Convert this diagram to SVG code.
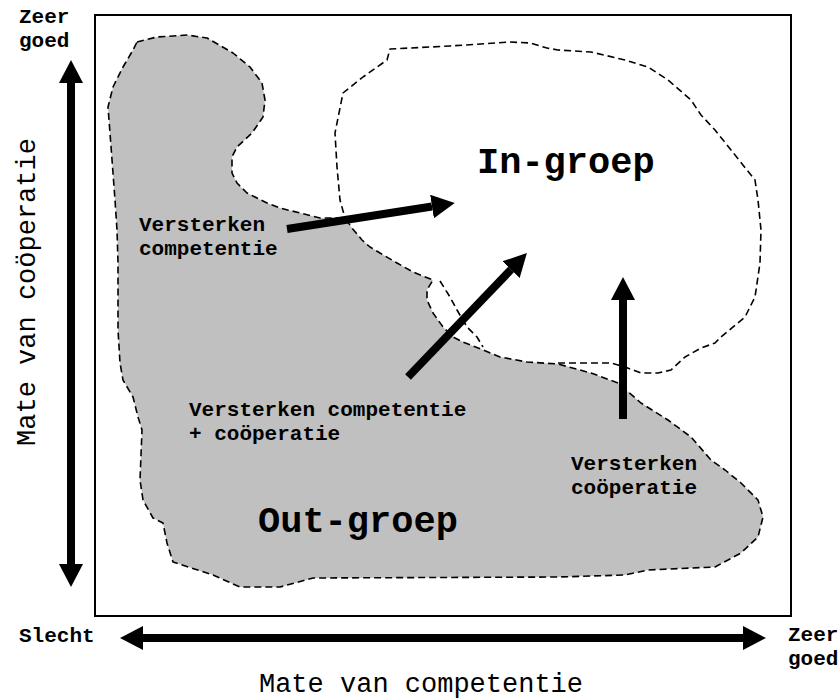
<svg xmlns="http://www.w3.org/2000/svg" width="838" height="700" viewBox="0 0 838 700">
<style>
.lbl{font-family:"Liberation Mono","Courier New",monospace;font-weight:bold;font-size:21px;fill:#000}
.big{font-family:"Liberation Mono","Courier New",monospace;font-weight:bold;font-size:37px;fill:#000}
.axis{font-family:"Liberation Mono","Courier New",monospace;font-size:27px;fill:#000}
.blob{stroke:#000;stroke-width:1.6;stroke-dasharray:7 4;stroke-linejoin:round}
.arr{stroke:#000;stroke-width:8;fill:none}
</style>
<defs>
<marker id="head" markerUnits="userSpaceOnUse" viewBox="0 -12 23 24" refX="0" refY="0" markerWidth="23" markerHeight="24" orient="auto-start-reverse">
<path d="M0,-12 L23,0 L0,12 Z" fill="#000"/>
</marker>
</defs>
<rect x="95" y="15" width="696" height="601" fill="#fff" stroke="#000" stroke-width="2"/>
<g id="out-groep">
<path class="blob" fill="#c0c0c0" d="M137,42 L157,37 L187,35 L207,38 L233,53 L250,67 L262,83 L265,100 L263,117 L252,133 L237,147 L232,157 L232,173 L237,183 L247,193 L267,203 L280,208 L320,218 L345,218 L352,228 L362,240 L370,247 L380,253 L397,263 L413,272 L433,280 L427,290 L427,300 L433,313 L443,327 L453,337 L463,342 L483,350 L500,357 L527,362 L558,364 L591,373 L618,383 L641,403 L668,420 L691,437 L711,460 L725,470 L741,483 L758,500 L763,517 L758,537 L741,553 L715,567 L691,568 L648,570 L625,575 L558,577 L313,578 L280,587 L240,587 L213,575 L173,562 L167,543 L163,523 L153,518 L143,500 L140,480 L142,430 L138,417 L133,397 L123,380 L120,363 L118,330 L118,263 L117,230 L115,200 L110,133 L108,107 L113,87 L123,67 L133,50 Z"/>
<text class="big" x="258" y="532">Out-groep</text>
</g>
<g id="in-groep">
<path class="blob" fill="none" d="M558,363 L611,363 L625,367 L641,373 L658,373 L671,370 L685,357 L701,348 L715,343 L721,337 L745,317 L755,297 L760,263 L761,230 L758,200 L755,180 L731,150 L715,130 L701,115 L691,100 L668,80 L648,67 L625,60 L591,52 L558,50 L547,48 L530,43 L510,42 L450,46 L390,49 L387,60 L363,77 L343,93 L335,133 L337,167 L340,200 L345,218 M440,281 L450,297 L457,310 L467,327 L477,337 L483,347"/>
<text class="big" x="477" y="173">In-groep</text>
</g>
<g id="connectors">
<line class="arr" x1="71" y1="83" x2="71" y2="564" marker-start="url(#head)" marker-end="url(#head)"/>
<line class="arr" x1="143" y1="638" x2="743" y2="638" marker-start="url(#head)" marker-end="url(#head)"/>
<line class="arr" x1="287" y1="229" x2="432" y2="206.5" marker-end="url(#head)"/>
<line class="arr" x1="408" y1="377" x2="511" y2="269.6" marker-end="url(#head)"/>
<line class="arr" x1="623" y1="419" x2="623" y2="300" marker-end="url(#head)"/>
</g>
<g id="label-comp">
<text class="lbl" x="139" y="231">Versterken</text>
<text class="lbl" x="139" y="255">competentie</text>
</g>
<g id="label-both">
<text class="lbl" x="189" y="416">Versterken competentie</text>
<text class="lbl" x="189" y="440">+ coöperatie</text>
</g>
<g id="label-coop">
<text class="lbl" x="571" y="470">Versterken</text>
<text class="lbl" x="571" y="494">coöperatie</text>
</g>
<g id="axis-labels">
<text class="lbl" x="19" y="23">Zeer</text>
<text class="lbl" x="19" y="47">goed</text>
<text class="lbl" x="19" y="642">Slecht</text>
<text class="lbl" x="788" y="641">Zeer</text>
<text class="lbl" x="788" y="665">goed</text>
<text class="axis" x="421" y="692" text-anchor="middle">Mate van competentie</text>
<text class="axis" transform="translate(35,292) rotate(-90)" text-anchor="middle">Mate van coöperatie</text>
</g>
</svg>
